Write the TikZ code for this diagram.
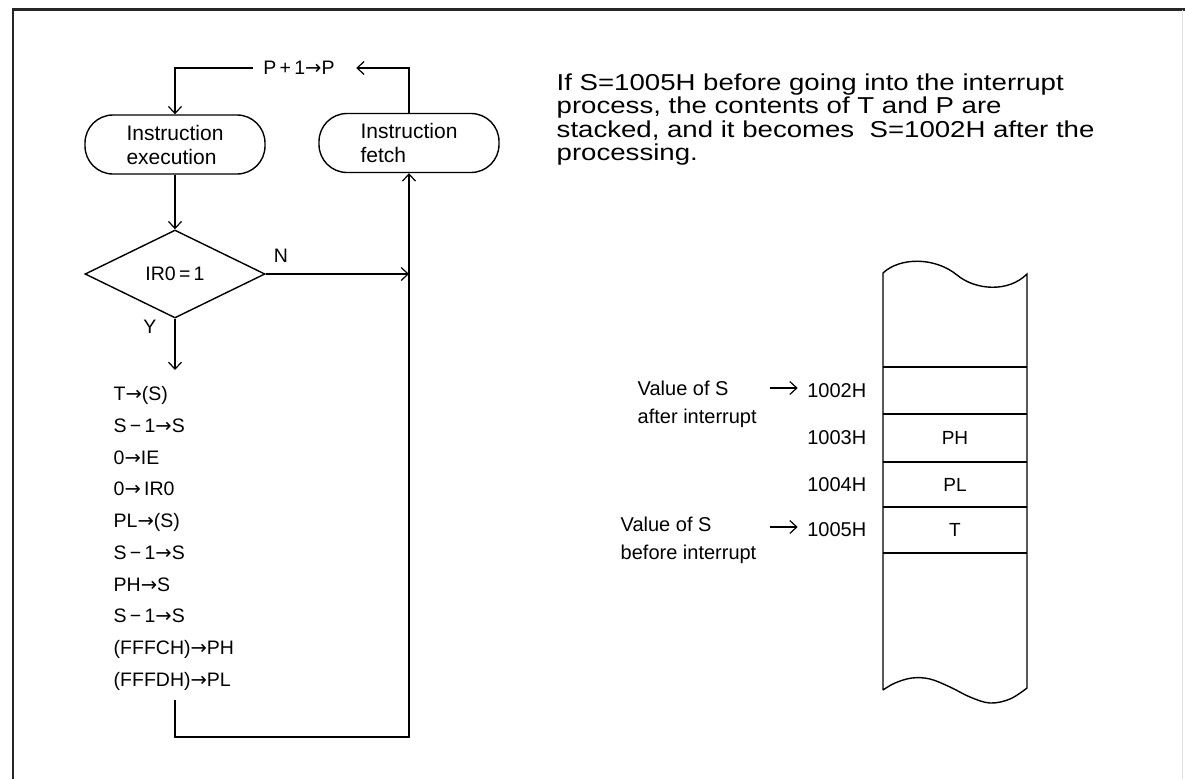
\documentclass[tikz,border=0pt]{standalone}
\usepackage{fontspec}
\setmainfont{Liberation Sans}
\newfontfamily\widefont[FakeStretch=1.2]{Liberation Sans}
\newfontfamily\arrowfont{DejaVu Sans}
\newcommand{\myarr}{{\arrowfont →}}
\usetikzlibrary{arrows.meta,shapes.geometric}
\begin{document}
\begin{tikzpicture}[x=1pt,y=-1pt,line width=1.4pt,
  arr/.style={-{Straight Barb[length=7pt,width=13pt,line width=1.2pt]}},
  term/.style={draw,rectangle,rounded corners=28pt,minimum width=180pt,minimum height=59pt,inner sep=0pt,align=left,font=\fontsize{21}{24}\selectfont},
  decision/.style={draw,diamond,aspect=2.05,minimum width=180pt,minimum height=88pt,inner sep=0pt,font=\fontsize{19.5}{22}\selectfont},
  lbl/.style={inner sep=0pt,font=\fontsize{19.5}{22}\selectfont},
  memlbl/.style={inner sep=0pt,align=left,font=\fontsize{20}{28}\selectfont},
  addr/.style={inner sep=0pt,anchor=east,font=\fontsize{20}{22}\selectfont},
  cell/.style={inner sep=0pt,font=\fontsize{19}{22}\selectfont}]
\useasboundingbox (0,0) rectangle (1185,779);
% frame
\draw[line width=2.2pt,black!85] (1185,9.5) -- (13,9.5) -- (13,779);
\draw[line width=0.6pt,black!12] (1182,9.5) -- (1182,779);

% flowchart
\node[term] (exec) at (175,144.5) {Instruction\\execution};
\node[term] (fetch) at (409,143) {Instruction\\fetch};
\node[lbl] (inc) at (299,68) {P\,+\,1\myarr P};
\draw[arr] (fetch.north) |- ([xshift=21pt]inc.east);
\draw[arr] ([xshift=-10pt]inc.west) -| (exec.north);

\node[decision] (dia) at (175,274) {IR0\,=\,1};
\draw[arr] (exec.south) -- (dia.north);
\node[lbl] (nlab) at (281,256) {N};
\node[lbl] (ylab) at (150,327) {Y};
\draw[arr] (dia.east) -- (dia.east -| fetch.south);

\node[anchor=north west,inner sep=0pt,align=left,font=\fontsize{19.5}{31.7}\selectfont] (list) at (113,386)
  {T\myarr(S)\\S\,−\,1\myarr S\\0\myarr IE\\0\myarr\,IR0\\PL\myarr(S)\\S\,−\,1\myarr S\\PH\myarr S\\S\,−\,1\myarr S\\(FFFCH)\myarr PH\\(FFFDH)\myarr PL};
\draw[arr] (dia.south) -- ([yshift=16pt]dia.south |- list.north);
\coordinate (lp) at (175,700);
\draw[arr] (lp) -- ++(0,37) -| (fetch.south);

% description
\node[anchor=north west,inner sep=0pt,align=left,font=\widefont\fontsize{23}{23.5}\selectfont] (desc) at (556,73)
  {If S=1005H before going into the interrupt\\process, the contents of T and P are\\stacked, and it becomes\ \ S=1002H after the\\processing.};

% memory stack
\draw (883,690) -- (883,273)
  .. controls (900,257) and (935,257) .. (957,275)
  .. controls (975,290) and (1008,293) .. (1027,274)
  -- (1027,688)
  -- plot[smooth,tension=0.6] coordinates {(1027,688) (1010,699) (990,703) (970,697)
     (950,687) (930,679) (912,678) (895,683) (883,690)};
\foreach \yy in {367,414,462,507,553} \draw (883,\yy) -- (1027,\yy);
\node[cell] (cph) at (955,438) {PH};
\node[cell] (cpl) at (955,484.5) {PL};
\node[cell] (ct) at (955,530) {T};
\node[addr] (a1002) at (867,391) {1002H};
\node[addr] (a1003) at (867,438) {1003H};
\node[addr] (a1004) at (867,484.5) {1004H};
\node[addr] (a1005) at (867,530) {1005H};
\node[memlbl,anchor=north west] (after) at (637,380) {Value of S\\after interrupt};
\node[memlbl,anchor=north west] (before) at (620,516) {Value of S\\before interrupt};
\draw[arr] ([xshift=-37pt,yshift=3pt]a1002.west) -- ([xshift=-9pt,yshift=3pt]a1002.west);
\draw[arr] ([xshift=-37pt,yshift=3pt]a1005.west) -- ([xshift=-9pt,yshift=3pt]a1005.west);
\end{tikzpicture}
\end{document}
